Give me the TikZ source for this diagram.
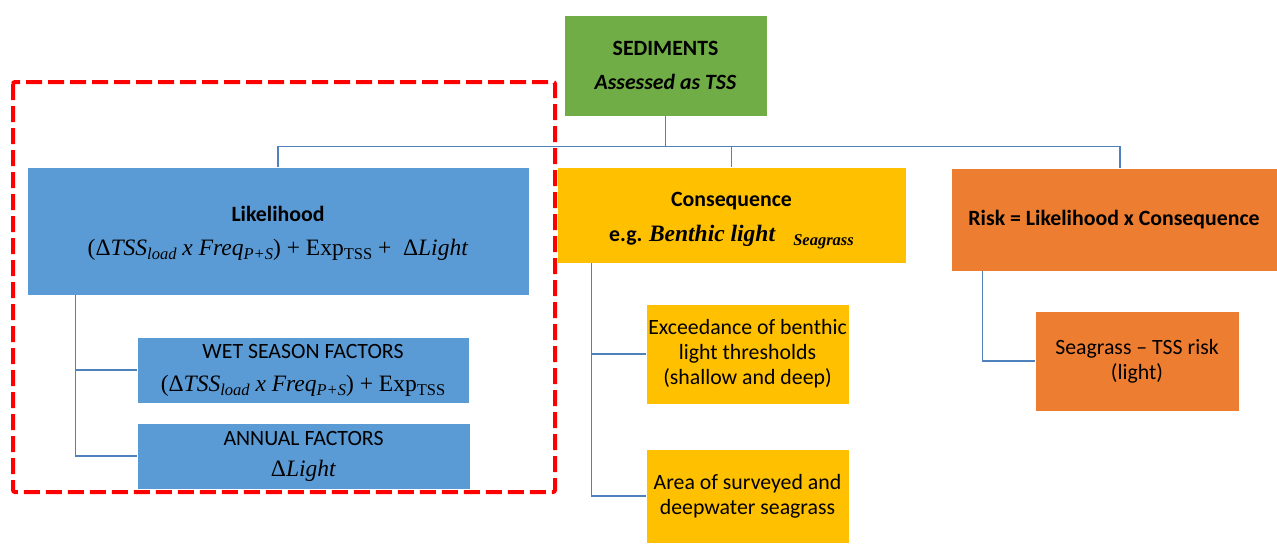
\RequirePackage{fix-cm}
\documentclass[tikz,border=0pt]{standalone}
\usepackage{fontspec}
\setmainfont{Carlito}
\newfontfamily\mf{Liberation Serif}
\usetikzlibrary{calc}
\definecolor{cgreen}{HTML}{70AD47}
\definecolor{cblue}{HTML}{5B9BD5}
\definecolor{cyell}{HTML}{FFC000}
\definecolor{corange}{HTML}{ED7D31}
\definecolor{cline}{HTML}{4F81BD}
\newcommand\sbx[1]{\raisebox{-0.4ex}{\fontsize{16.5}{16}\selectfont #1}}
\newcommand\fml[1]{{\fontsize{23.5}{25}\mf #1}}
\tikzset{
  box/.style={draw=white, line width=0.6pt, inner sep=0pt, align=center, text=black,
    font=\fontsize{21.8}{25}\selectfont},
  conn/.style={draw=cline, line width=1.3pt},
  redframe/.style={draw=red, line width=4pt, dash pattern=on 16pt off 6pt, rounded corners=2pt}
}
\begin{document}
\begin{tikzpicture}[x=1pt,y=-1pt]
\useasboundingbox (0,0) rectangle (1277,544);
\node[box, fill=cgreen, minimum width=203, minimum height=101] (sed) at (665.5,65.5)
  {\textbf{SEDIMENTS}\\[9pt]\textbf{\textit{Assessed as TSS}}};
\node[box, fill=cblue, minimum width=502, minimum height=128] (lik) at (278,231)
  {\rule{0pt}{20pt}\textbf{Likelihood}\\[9pt]\fml{(Δ\textit{TSS}\sbx{\textit{load}} \textit{x Freq}\sbx{\textit{P+S}}) + Exp\sbx{TSS} + \ Δ\textit{Light}}};
\node[box, fill=cblue, minimum width=332, minimum height=66] (wet) at (303,370)
  {WET SEASON FACTORS\\[8pt]\fml{(Δ\textit{TSS}\sbx{\textit{load}} \textit{x Freq}\sbx{\textit{P+S}}) + Exp\sbx{TSS}}};
\node[box, fill=cblue, minimum width=333, minimum height=66] (ann) at (303.5,456)
  {ANNUAL FACTORS\\[6pt]\fml{Δ\textit{Light}}};
\node[box, fill=cyell, minimum width=349, minimum height=96] (cons) at (731.5,215)
  {\rule{0pt}{26pt}\textbf{Consequence}\\[10pt]\textbf{e.g.} \fml{\textbf{\textit{Benthic light}} \ \ \sbx{\textbf{\textit{Seagrass}}}}};
\node[box, fill=corange, minimum width=326, minimum height=103] (risk) at (1114,219.5)
  {\textbf{Risk = Likelihood x Consequence}};
\node[box, fill=cyell, minimum width=203, minimum height=100] (exc) at (747.5,354)
  {Exceedance of benthic\\light thresholds\\(shallow and deep)};
\node[box, fill=cyell, minimum width=203, minimum height=94] (area) at (747.5,496)
  {Area of surveyed and\\deepwater seagrass};
\node[box, fill=corange, minimum width=204, minimum height=100] (sg) at (1137,361)
  {Seagrass -- TSS risk\\(light)};
% connectors
\draw[conn] (sed.south) -- ++(0,30) coordinate (bus);
\draw[conn] (lik.north) |- (bus);
\coordinate (rtop) at ($(risk.north)+(6,0)$);
\draw[conn] (bus) -| (rtop);
\draw[conn] (cons.north) -- (cons.north |- bus);
\coordinate (lt) at ($(lik.south west)+(49,0)$);
\draw[conn] (lt) |- (wet.west);
\draw[conn] (lt) |- (ann.west);
\coordinate (ct) at ($(cons.south west)+(35,0)$);
\draw[conn] (ct) |- (exc.west);
\draw[conn] (ct) |- (area.west);
\coordinate (rt) at ($(risk.south west)+(32,0)$);
\draw[conn] (rt) |- (sg.west);
% red dashed frame
\draw[redframe] (13,82) rectangle (555,492);
\end{tikzpicture}
\end{document}
